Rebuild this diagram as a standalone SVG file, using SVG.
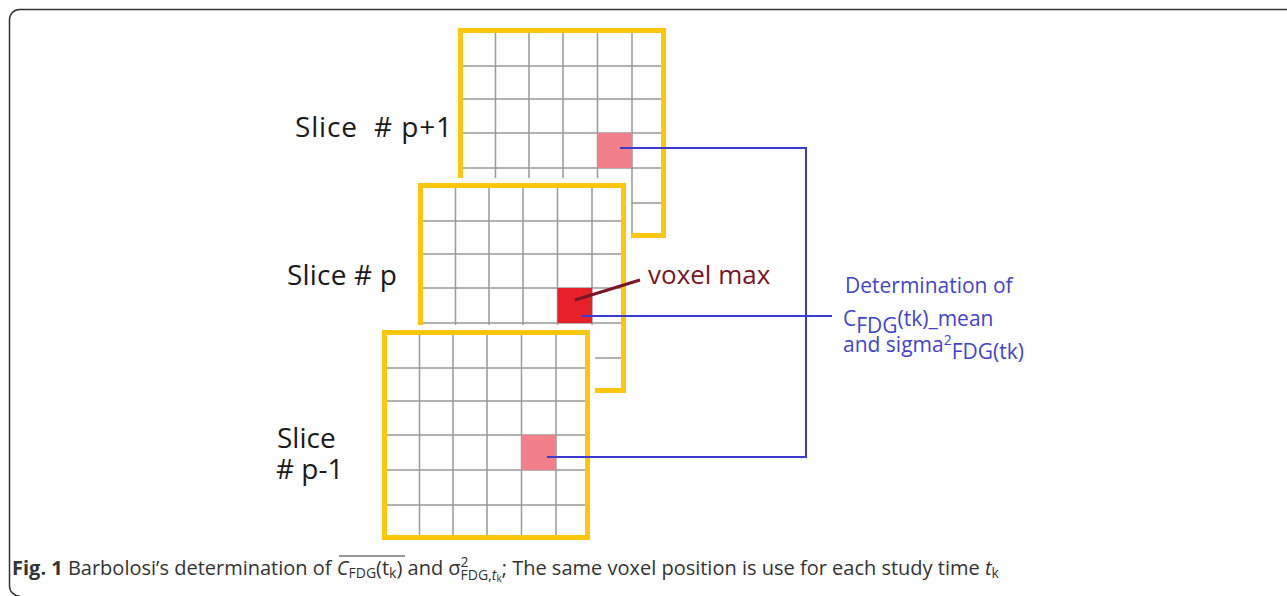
<svg xmlns="http://www.w3.org/2000/svg" xmlns:xlink="http://www.w3.org/1999/xlink" width="1287" height="596" viewBox="0 0 1287 596">
<style>
.lbl{font-family:"Open Sans","Noto Sans",sans-serif;font-size:28px;fill:#1a1a1a}
.blue{font-family:"Open Sans","Noto Sans",sans-serif;font-size:21px;fill:#4343d2}
.vm{font-family:"Open Sans","Noto Sans",sans-serif;font-size:26px;fill:#7b1426}
.cap{font-family:"Open Sans","Noto Sans",sans-serif;font-size:20px;fill:#333}
.conn{fill:none;stroke:#3b3bcf;stroke-width:2}
.pink{fill:#f2808a}
.red{fill:#e8202a}
</style>
<defs>
<g id="grid">
<rect x="-5" y="-5" width="218" height="220" fill="#fff"/>
<path d="M37.5 5V205M71 5V205M105 5V205M139.5 5V205M174 5V205M5 38H203M5 71H203M5 105H203M5 140H203M5 175H203" stroke="#9b9b9b" stroke-width="1.5" fill="none"/>
</g>
<rect id="frame" x="2.5" y="2.5" width="203" height="205" fill="none" stroke="#ffc60b" stroke-width="5"/>
</defs>
<path d="M1287 9.5H19.5A10 10 0 0 0 9.5 19.5V586A10 10 0 0 0 19.5 596" fill="none" stroke="#333" stroke-width="1.5"/>
<g id="slice-p-plus-1">
<g transform="translate(458,28)"><use xlink:href="#grid"/><rect class="pink" x="139.5" y="105" width="34.5" height="35"/><use xlink:href="#frame"/></g>
<text class="lbl" x="295" y="137" xml:space="preserve" textLength="157" lengthAdjust="spacing">Slice  # p+1</text>
</g>
<g id="slice-p">
<g transform="translate(418,183)"><use xlink:href="#grid"/><rect class="red" x="139.5" y="105" width="34.5" height="35"/><use xlink:href="#frame"/></g>
<text class="lbl" x="287" y="285" textLength="110" lengthAdjust="spacing">Slice # p</text>
</g>
<g id="slice-p-minus-1">
<g transform="translate(382,330)"><use xlink:href="#grid"/><rect class="pink" x="139.5" y="105" width="34.5" height="35"/><use xlink:href="#frame"/></g>
<text class="lbl" x="277" y="448">Slice</text>
<text class="lbl" x="276" y="479"># p-1</text>
</g>
<g id="connectors">
<path class="conn" d="M620 148H806V457H547"/>
<path class="conn" d="M582 316H832"/>
<path d="M575 300L640 280" stroke="#7b1426" stroke-width="3" fill="none"/>
</g>
<g id="voxel-max-label">
<text class="vm" x="648" y="284">voxel max</text>
</g>
<g id="determination-label">
<text class="blue" x="845" y="293">Determination of</text>
<text class="blue" x="843" y="326">C<tspan dy="7">FDG</tspan><tspan dy="-7">(tk)_mean</tspan></text>
<text class="blue" x="843" y="352">and sigma<tspan font-size="14" dy="-7">2</tspan><tspan dy="14">FDG(tk)</tspan></text>
</g>
<g id="caption">
<text class="cap" x="12" y="575"><tspan font-weight="bold">Fig. 1</tspan> Barbolosi’s determination of <tspan font-style="italic">C</tspan><tspan font-size="14" dy="3">FDG</tspan><tspan dy="-3">(t</tspan><tspan font-size="14" dy="3">k</tspan><tspan dy="-3">) and σ</tspan><tspan font-size="14" dy="-8">2</tspan><tspan font-size="14" dx="-8" dy="13">FDG,</tspan><tspan font-size="14" font-style="italic">t</tspan><tspan font-size="10" dy="2">k</tspan><tspan dy="-7">; The same voxel position is use for each study time </tspan><tspan font-style="italic">t</tspan><tspan font-size="14" dy="3">k</tspan></text>
<line x1="339" y1="556" x2="405" y2="556" stroke="#333" stroke-width="1.2"/>
</g>
</svg>
